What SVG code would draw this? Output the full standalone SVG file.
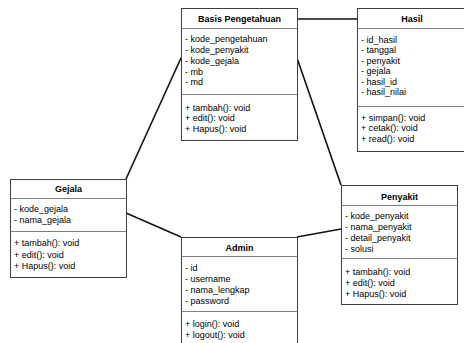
<svg xmlns="http://www.w3.org/2000/svg" width="464" height="343" viewBox="0 0 464 343">
<style>
.box{fill:#fff;stroke:#404040;stroke-width:1}
.sep{stroke:#808080;stroke-width:1}
.t{font-family:"Liberation Sans",Arial,sans-serif;font-size:9px;fill:#000}
.h{font-family:"Liberation Sans",Arial,sans-serif;font-size:9px;font-weight:bold;fill:#000;text-anchor:middle}
.c{stroke:#111;stroke-width:1.6;fill:none}
</style>
<rect width="464" height="343" fill="#fff"/>
<g id="connectors">
<line class="c" x1="297" y1="19" x2="357" y2="19"/>
<line class="c" x1="126" y1="179" x2="181" y2="58"/>
<line class="c" x1="297" y1="58" x2="341" y2="185"/>
<line class="c" x1="126" y1="213" x2="181" y2="237"/>
<line class="c" x1="297" y1="237" x2="341" y2="229"/>
</g>
<g id="basis">
<rect class="box" x="181.5" y="8.5" width="116" height="132"/>
<line class="sep" x1="181.5" y1="28.5" x2="297.5" y2="28.5"/>
<line class="sep" x1="181.5" y1="94.5" x2="297.5" y2="94.5"/>
<text class="h" x="239.5" y="21.5">Basis Pengetahuan</text>
<text class="t" x="185" y="41.5">- kode_pengetahuan</text>
<text class="t" x="185" y="52.5">- kode_penyakit</text>
<text class="t" x="185" y="63.5">- kode_gejala</text>
<text class="t" x="185" y="74.5">- mb</text>
<text class="t" x="185" y="85">- md</text>
<text class="t" x="185" y="110.5">+ tambah(): void</text>
<text class="t" x="185" y="121">+ edit(): void</text>
<text class="t" x="185" y="132">+ Hapus(): void</text>
</g>
<g id="hasil">
<rect class="box" x="357.5" y="8.5" width="110" height="143"/>
<line class="sep" x1="357.5" y1="28.5" x2="467.5" y2="28.5"/>
<line class="sep" x1="357.5" y1="106.5" x2="467.5" y2="106.5"/>
<text class="h" x="412" y="21.5">Hasil</text>
<text class="t" x="361" y="42.5">- id_hasil</text>
<text class="t" x="361" y="53">- tanggal</text>
<text class="t" x="361" y="63.5">- penyakit</text>
<text class="t" x="361" y="74">- gejala</text>
<text class="t" x="361" y="84.5">- hasil_id</text>
<text class="t" x="361" y="95">- hasil_nilai</text>
<text class="t" x="361" y="120.5">+ simpan(): void</text>
<text class="t" x="361" y="131">+ cetak(): void</text>
<text class="t" x="361" y="141.5">+ read(): void</text>
</g>
<g id="gejala">
<rect class="box" x="10.5" y="179.5" width="116" height="98"/>
<line class="sep" x1="10.5" y1="198.5" x2="126.5" y2="198.5"/>
<line class="sep" x1="10.5" y1="231.5" x2="126.5" y2="231.5"/>
<text class="h" x="68.5" y="192">Gejala</text>
<text class="t" x="14" y="211.5">- kode_gejala</text>
<text class="t" x="14" y="222.5">- nama_gejala</text>
<text class="t" x="14" y="246">+ tambah(): void</text>
<text class="t" x="14" y="257.5">+ edit(): void</text>
<text class="t" x="14" y="269">+ Hapus(): void</text>
</g>
<g id="admin">
<rect class="box" x="181.5" y="237.5" width="116" height="120"/>
<line class="sep" x1="181.5" y1="256.5" x2="297.5" y2="256.5"/>
<line class="sep" x1="181.5" y1="311.5" x2="297.5" y2="311.5"/>
<text class="h" x="239.5" y="250.5">Admin</text>
<text class="t" x="185" y="270.5">- id</text>
<text class="t" x="185" y="281.5">- username</text>
<text class="t" x="185" y="292.5">- nama_lengkap</text>
<text class="t" x="185" y="303.5">- password</text>
<text class="t" x="185" y="327">+ login(): void</text>
<text class="t" x="185" y="338">+ logout(): void</text>
</g>
<g id="penyakit">
<rect class="box" x="341.5" y="185.5" width="116" height="119"/>
<line class="sep" x1="341.5" y1="205.5" x2="457.5" y2="205.5"/>
<line class="sep" x1="341.5" y1="258.5" x2="457.5" y2="258.5"/>
<text class="h" x="399.5" y="199.5">Penyakit</text>
<text class="t" x="345" y="218.5">- kode_penyakit</text>
<text class="t" x="345" y="229.5">- nama_penyakit</text>
<text class="t" x="345" y="240.5">- detail_penyakit</text>
<text class="t" x="345" y="251.5">- solusi</text>
<text class="t" x="345" y="274.5">+ tambah(): void</text>
<text class="t" x="345" y="285.5">+ edit(): void</text>
<text class="t" x="345" y="296.5">+ Hapus(): void</text>
</g>
</svg>
